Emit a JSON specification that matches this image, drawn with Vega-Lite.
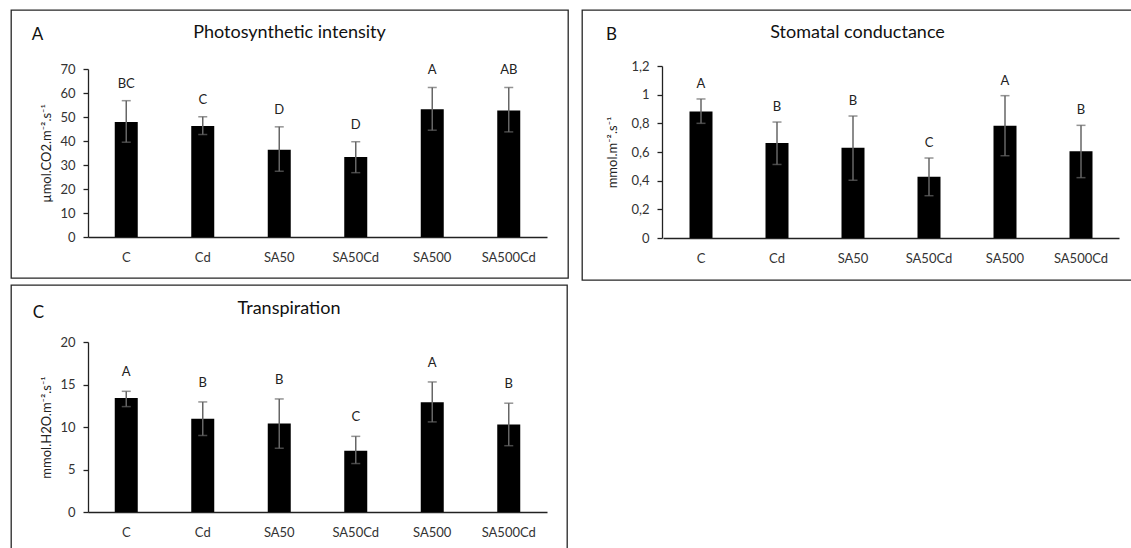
{
  "$schema": "https://vega.github.io/schema/vega-lite/v6.json",
  "padding": {"left": 10, "top": 9, "right": 0, "bottom": 0},
  "config": {
    "font": "Lato",
    "view": {"stroke": "#262626", "strokeWidth": 1.3},
    "axis": {"grid": false, "labelOverlap": false, "domainColor": "#222", "domainWidth": 1.3, "tickColor": "#222", "tickWidth": 1.3, "labelFont": "Lato", "labelFontSize": 13, "labelColor": "#333", "titleFont": "Lato", "titleFontWeight": "normal", "titleColor": "#222"},
    "title": {"font": "Lato", "fontSize": 18, "fontWeight": "normal", "color": "#111"}
  },
  "datasets": {
    "photo": [
      {"treatment": "C", "mean": 47.9, "lo": 39.5, "hi": 56.8, "sig": "BC"},
      {"treatment": "Cd", "mean": 46.3, "lo": 42.7, "hi": 50.1, "sig": "C"},
      {"treatment": "SA50", "mean": 36.4, "lo": 27.4, "hi": 45.9, "sig": "D"},
      {"treatment": "SA50Cd", "mean": 33.3, "lo": 26.8, "hi": 39.7, "sig": "D"},
      {"treatment": "SA500", "mean": 53.2, "lo": 44.5, "hi": 62.3, "sig": "A"},
      {"treatment": "SA500Cd", "mean": 52.7, "lo": 43.8, "hi": 62.3, "sig": "AB"}
    ],
    "stomatal": [
      {"treatment": "C", "mean": 0.883, "lo": 0.80, "hi": 0.97, "sig": "A"},
      {"treatment": "Cd", "mean": 0.662, "lo": 0.513, "hi": 0.809, "sig": "B"},
      {"treatment": "SA50", "mean": 0.629, "lo": 0.403, "hi": 0.851, "sig": "B"},
      {"treatment": "SA50Cd", "mean": 0.428, "lo": 0.295, "hi": 0.558, "sig": "C"},
      {"treatment": "SA500", "mean": 0.784, "lo": 0.574, "hi": 0.993, "sig": "A"},
      {"treatment": "SA500Cd", "mean": 0.605, "lo": 0.421, "hi": 0.786, "sig": "B"}
    ],
    "transp": [
      {"treatment": "C", "mean": 13.4, "lo": 12.4, "hi": 14.2, "sig": "A"},
      {"treatment": "Cd", "mean": 10.96, "lo": 9.0, "hi": 12.95, "sig": "B"},
      {"treatment": "SA50", "mean": 10.4, "lo": 7.5, "hi": 13.3, "sig": "B"},
      {"treatment": "SA50Cd", "mean": 7.2, "lo": 5.7, "hi": 8.9, "sig": "C"},
      {"treatment": "SA500", "mean": 12.9, "lo": 10.6, "hi": 15.3, "sig": "A"},
      {"treatment": "SA500Cd", "mean": 10.3, "lo": 7.8, "hi": 12.8, "sig": "B"}
    ]
  },
  "vconcat": [
    {
      "hconcat": [
        {
          "width": 557, "height": 268,
          "title": {"text": "Photosynthetic intensity", "offset": -41, "baseline": "middle", "anchor": "middle"},
          "data": {"name": "photo"},
          "encoding": {
            "x": {"field": "treatment", "type": "nominal", "sort": null,
              "scale": {"range": [77, 536], "paddingInner": 0, "paddingOuter": 0},
              "axis": {"title": "A", "titleX": 26, "titleY": -203, "titleAlign": "center", "titleBaseline": "middle", "titleFontSize": 17, "titleColor": "#111", "labelAngle": 0, "ticks": false, "tickSize": 0, "labelPadding": 14, "offset": -41}}
          },
          "layer": [
            {"mark": {"type": "bar", "width": 23, "color": "#000"},
             "encoding": {"y": {"field": "mean", "type": "quantitative", "title": "µmol.CO2.m⁻².s⁻¹",
               "scale": {"domain": [0, 70], "range": [227, 59], "nice": false},
               "axis": {"values": [0, 10, 20, 30, 40, 50, 60, 70], "tickCount": 50, "format": "d", "labelOverlap": false, "offset": -77, "tickSize": 5, "labelPadding": 8, "titleX": -42, "titleBaseline": "middle", "titleFontSize": 13}}}},
            {"mark": {"type": "rule", "color": "#666", "strokeWidth": 1.5},
             "encoding": {"y": {"field": "lo", "type": "quantitative", "title": "µmol.CO2.m⁻².s⁻¹"}, "y2": {"field": "hi"}}},
            {"mark": {"type": "tick", "color": "#666", "size": 9, "thickness": 1.5},
             "encoding": {"y": {"field": "lo", "type": "quantitative", "title": "µmol.CO2.m⁻².s⁻¹"}}},
            {"mark": {"type": "tick", "color": "#666", "size": 9, "thickness": 1.5},
             "encoding": {"y": {"field": "hi", "type": "quantitative", "title": "µmol.CO2.m⁻².s⁻¹"}}},
            {"mark": {"type": "text", "fontSize": 13, "color": "#222", "baseline": "middle", "dy": -17},
             "encoding": {"y": {"field": "hi", "type": "quantitative", "title": "µmol.CO2.m⁻².s⁻¹"}, "text": {"field": "sig"}}}
          ]
        },
        {
          "width": 551, "height": 270,
          "title": {"text": "Stomatal conductance", "offset": -41, "baseline": "middle", "anchor": "middle"},
          "data": {"name": "stomatal"},
          "encoding": {
            "x": {"field": "treatment", "type": "nominal", "sort": null,
              "scale": {"range": [81, 537], "paddingInner": 0, "paddingOuter": 0},
              "axis": {"title": "B", "titleX": 29, "titleY": -204, "titleAlign": "center", "titleBaseline": "middle", "titleFontSize": 17, "titleColor": "#111", "labelAngle": 0, "ticks": false, "tickSize": 0, "labelPadding": 14, "offset": -42}}
          },
          "layer": [
            {"mark": {"type": "bar", "width": 23, "color": "#000"},
             "encoding": {"y": {"field": "mean", "type": "quantitative", "title": "mmol.m⁻².s⁻¹",
               "scale": {"domain": [0, 1.2], "range": [228, 56], "nice": false},
               "axis": {"values": [0, 0.2, 0.4, 0.6, 0.8, 1, 1.2], "tickCount": 50, "labelOverlap": false, "labelExpr": "replace(format(datum.value, '~g'), '.', ',')", "offset": -80, "tickSize": 5, "labelPadding": 8, "titleX": -50, "titleBaseline": "middle", "titleFontSize": 13}}}},
            {"mark": {"type": "rule", "color": "#666", "strokeWidth": 1.5},
             "encoding": {"y": {"field": "lo", "type": "quantitative", "title": "mmol.m⁻².s⁻¹"}, "y2": {"field": "hi"}}},
            {"mark": {"type": "tick", "color": "#666", "size": 9, "thickness": 1.5},
             "encoding": {"y": {"field": "lo", "type": "quantitative", "title": "mmol.m⁻².s⁻¹"}}},
            {"mark": {"type": "tick", "color": "#666", "size": 9, "thickness": 1.5},
             "encoding": {"y": {"field": "hi", "type": "quantitative", "title": "mmol.m⁻².s⁻¹"}}},
            {"mark": {"type": "text", "fontSize": 13, "color": "#222", "baseline": "middle", "dy": -15},
             "encoding": {"y": {"field": "hi", "type": "quantitative", "title": "mmol.m⁻².s⁻¹"}, "text": {"field": "sig"}}}
          ]
        }
      ],
      "spacing": 12
    },
    {
      "width": 556, "height": 266,
      "title": {"text": "Transpiration", "offset": -42, "baseline": "middle", "anchor": "middle"},
      "data": {"name": "transp"},
      "encoding": {
        "x": {"field": "treatment", "type": "nominal", "sort": null,
          "scale": {"range": [77, 536], "paddingInner": 0, "paddingOuter": 0},
          "axis": {"title": "C", "titleX": 27, "titleY": -200, "titleAlign": "center", "titleBaseline": "middle", "titleFontSize": 17, "titleColor": "#111", "labelAngle": 0, "ticks": false, "tickSize": 0, "labelPadding": 14, "offset": -39}}
      },
      "layer": [
        {"mark": {"type": "bar", "width": 23, "color": "#000"},
         "encoding": {"y": {"field": "mean", "type": "quantitative", "title": "mmol.H2O.m⁻².s⁻¹",
           "scale": {"domain": [0, 20], "range": [227, 57], "nice": false},
           "axis": {"values": [0, 5, 10, 15, 20], "tickCount": 50, "format": "d", "labelOverlap": false, "offset": -77, "tickSize": 5, "labelPadding": 8, "titleX": -42, "titleBaseline": "middle", "titleFontSize": 13}}}},
        {"mark": {"type": "rule", "color": "#666", "strokeWidth": 1.5},
         "encoding": {"y": {"field": "lo", "type": "quantitative", "title": "mmol.H2O.m⁻².s⁻¹"}, "y2": {"field": "hi"}}},
        {"mark": {"type": "tick", "color": "#666", "size": 9, "thickness": 1.5},
         "encoding": {"y": {"field": "lo", "type": "quantitative", "title": "mmol.H2O.m⁻².s⁻¹"}}},
        {"mark": {"type": "tick", "color": "#666", "size": 9, "thickness": 1.5},
         "encoding": {"y": {"field": "hi", "type": "quantitative", "title": "mmol.H2O.m⁻².s⁻¹"}}},
        {"mark": {"type": "text", "fontSize": 13, "color": "#222", "baseline": "middle", "dy": -19},
         "encoding": {"y": {"field": "hi", "type": "quantitative", "title": "mmol.H2O.m⁻².s⁻¹"}, "text": {"field": "sig"}}}
      ]
    }
  ],
  "spacing": 3
}
